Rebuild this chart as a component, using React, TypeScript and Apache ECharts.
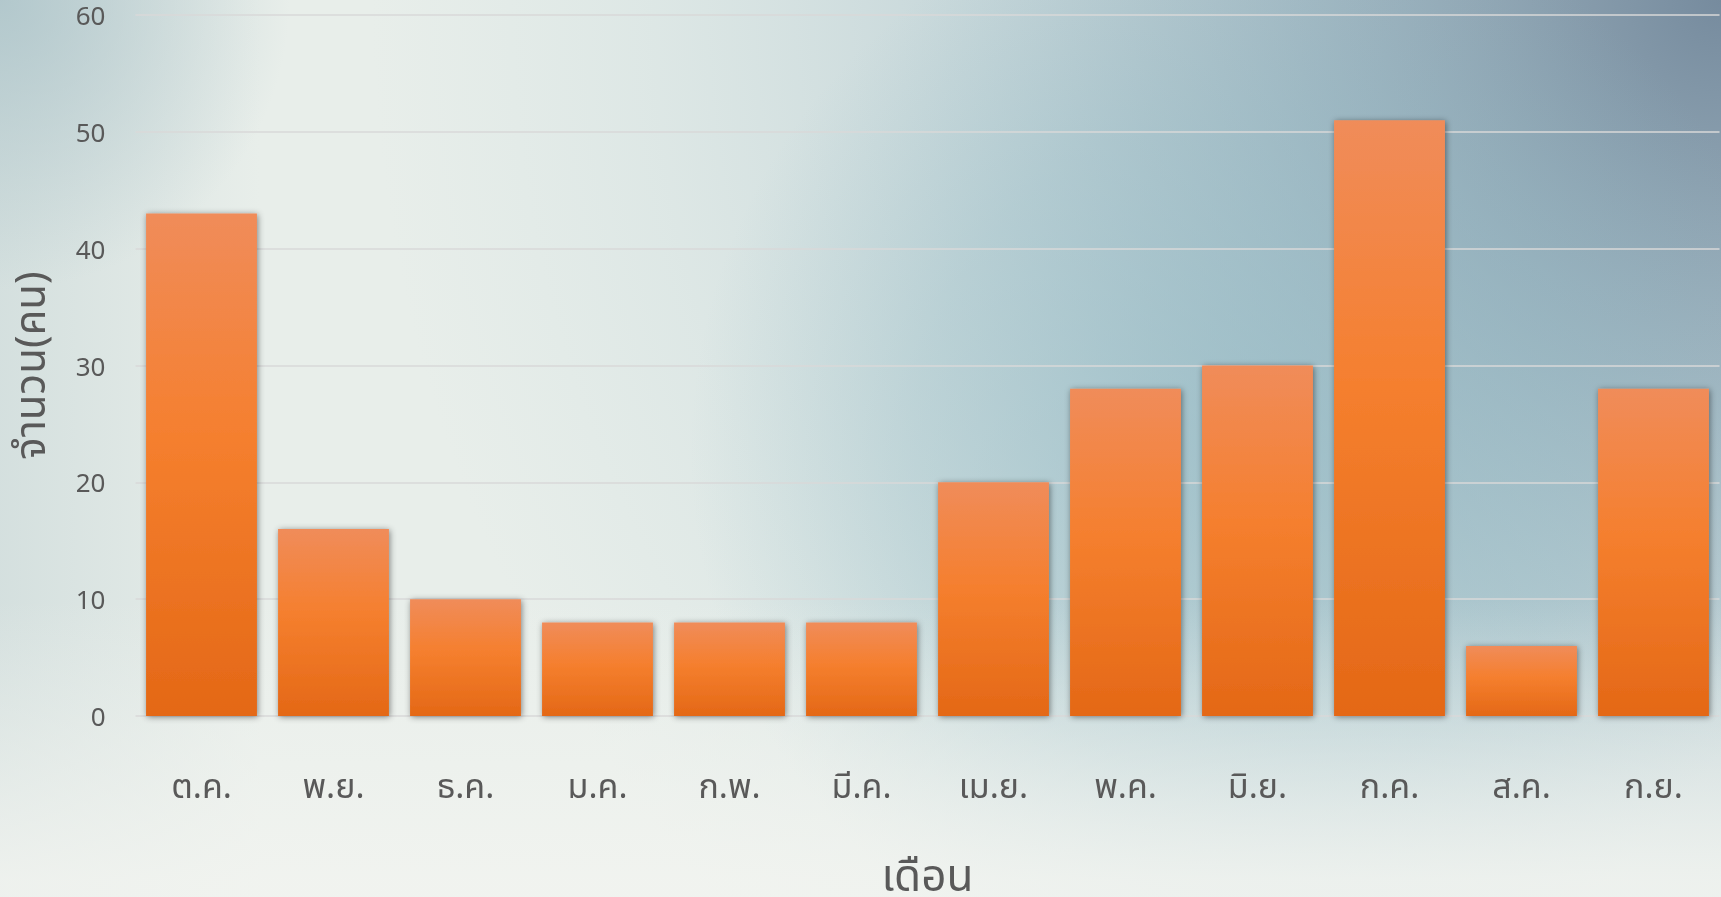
import React, { useEffect, useRef } from "react";
import * as echarts from "echarts";

const categories = ["ต.ค.", "พ.ย.", "ธ.ค.", "ม.ค.", "ก.พ.", "มี.ค.", "เม.ย.", "พ.ค.", "มิ.ย.", "ก.ค.", "ส.ค.", "ก.ย."];
const values = [43, 16, 10, 8, 8, 8, 20, 28, 30, 51, 6, 28];
const xAxisTitle = "เดือน";
const yAxisTitle = "จำนวน(คน)";
const yMin = 0;
const yMax = 60;
const yStep = 10;

const W = 1721;
const H = 897;
const FONT = "'Noto Sans', 'Noto Sans Thai', sans-serif";
const TXT = "#595959";

function layer(z: number, fill: any) {
  return { type: "rect", z, silent: true, shape: { x: 0, y: 0, width: W, height: H }, style: { fill } };
}

export default function App() {
  const ref = useRef<HTMLDivElement>(null);
  useEffect(() => {
    if (!ref.current) return;
    const chart = echarts.init(ref.current, null, { renderer: "svg" });
    const bg: any[] = [
      layer(-20, "#e8eeea"),
      layer(-19, new echarts.graphic.LinearGradient(0, 0, 260, 0, [
        { offset: 0, color: "rgba(196,212,213,0.55)" },
        { offset: 1, color: "rgba(196,212,213,0)" },
      ], true)),
      layer(-18, new echarts.graphic.RadialGradient(W, 0, 1350, [
        { offset: 0, color: "rgba(118,139,158,1)" },
        { offset: 0.3, color: "rgba(155,178,190,0.9)" },
        { offset: 0.55, color: "rgba(174,198,206,0.6)" },
        { offset: 0.8, color: "rgba(195,215,218,0.28)" },
        { offset: 1, color: "rgba(200,220,222,0)" },
      ], true)),
      layer(-17, new echarts.graphic.RadialGradient(1250, 450, 560, [
        { offset: 0, color: "rgba(140,182,194,0.6)" },
        { offset: 0.6, color: "rgba(140,182,194,0.3)" },
        { offset: 1, color: "rgba(140,182,194,0)" },
      ], true)),
      layer(-16, new echarts.graphic.RadialGradient(0, 0, 290, [
        { offset: 0, color: "rgba(170,194,200,0.8)" },
        { offset: 1, color: "rgba(170,194,200,0)" },
      ], true)),
      layer(-15, new echarts.graphic.LinearGradient(0, 600, 0, 880, [
        { offset: 0, color: "rgba(242,244,240,0)" },
        { offset: 1, color: "rgba(242,244,240,0.85)" },
      ], true)),
    ];
    chart.setOption({
      animation: false,
      graphic: bg,
      grid: { left: 135.5, right: 1.5, top: 15, bottom: 181, containLabel: false, outerBoundsMode: "none" },
      xAxis: {
        type: "category",
        data: categories,
        name: xAxisTitle,
        nameLocation: "middle",
        nameGap: 136,
        nameTextStyle: { fontSize: 44, color: TXT, fontFamily: FONT },
        axisTick: { show: false },
        axisLine: {
          show: true,
          lineStyle: { color: "#d9d9d9", width: 2, shadowColor: "rgba(0,0,0,0.35)", shadowBlur: 3, shadowOffsetY: 2 },
        },
        axisLabel: { fontSize: 34, color: TXT, fontFamily: FONT, margin: 52 },
      },
      yAxis: {
        type: "value",
        min: yMin,
        max: yMax,
        interval: yStep,
        name: yAxisTitle,
        nameLocation: "middle",
        nameGap: 86,
        nameRotate: 90,
        nameTextStyle: { fontSize: 42, color: TXT, fontFamily: FONT },
        axisLine: { show: false },
        axisTick: { show: false },
        axisLabel: { fontSize: 26, color: TXT, fontFamily: FONT, margin: 30 },
        splitLine: { lineStyle: { color: "#d9d9d9", width: 1.5 } },
      },
      series: [
        {
          type: "bar",
          data: values,
          barCategoryGap: "16%",
          itemStyle: {
            color: new echarts.graphic.LinearGradient(0, 0, 0, 1, [
              { offset: 0, color: "#f08c5a" },
              { offset: 0.45, color: "#f57f2e" },
              { offset: 1, color: "#e46816" },
            ]),
            shadowColor: "rgba(0,0,0,0.45)",
            shadowBlur: 6,
            shadowOffsetX: 1,
            shadowOffsetY: 1,
          },
        },
      ],
    });
    return () => chart.dispose();
  }, []);
  return <div ref={ref} style={{ position: "fixed", left: 0, top: 0, width: W, height: H }} />;
}
